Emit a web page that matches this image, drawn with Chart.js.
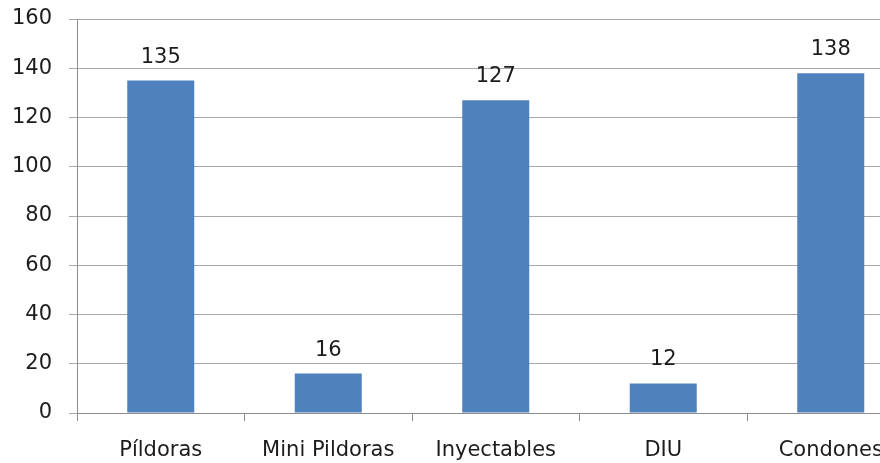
<!DOCTYPE html>
<html>
<head>
<meta charset="utf-8">
<script src="https://cdn.jsdelivr.net/npm/chart.js@4"></script>
<style>
  html, body { margin: 0; padding: 0; background: #fff; overflow: hidden; }
  #wrap { width: 930px; height: 463px; }
</style>
</head>
<body>
<div id="wrap"><canvas id="c" width="930" height="463"></canvas></div>
<script>
// Métodos anticonceptivos: número de usuarias por método
const categories = ['Píldoras', 'Mini Pildoras', 'Inyectables', 'DIU', 'Condones'];
const usuarias = [135, 16, 127, 12, 138];
const yTicks = [0, 20, 40, 60, 80, 100, 120, 140, 160];

const FONT = 'DejaVu Sans';
const TEXT = '#1c1c1c';
const SIZE = 21;

// Writes each bar's value just above it
const valueLabels = {
  id: 'valueLabels',
  afterDatasetsDraw(chart) {
    const ctx = chart.ctx;
    const meta = chart.getDatasetMeta(0);
    ctx.save();
    ctx.font = SIZE + 'px "' + FONT + '"';
    ctx.fillStyle = TEXT;
    ctx.textAlign = 'center';
    ctx.textBaseline = 'bottom';
    meta.data.forEach((bar, i) => {
      ctx.fillText(String(usuarias[i]), bar.x, bar.y - 13);
    });
    ctx.restore();
  }
};

new Chart(document.getElementById('c'), {
  type: 'bar',
  data: {
    labels: categories,
    datasets: [{
      data: usuarias,
      backgroundColor: '#4F81BD',
      borderWidth: 0,
      barPercentage: 0.4,
      categoryPercentage: 1.0
    }]
  },
  options: {
    responsive: false,
    animation: false,
    layout: { padding: { left: 13, right: 15.5, top: 19, bottom: 0 } },
    plugins: { legend: { display: false }, tooltip: { enabled: false } },
    scales: {
      x: {
        offset: true,
        afterFit(axis) {
          axis.height = 50;
          axis.paddingLeft = 0;
          axis.paddingRight = 0;
        },
        grid: {
          offset: true,
          drawOnChartArea: false,
          drawTicks: true,
          tickLength: 8,
          color: '#8c8c8c'
        },
        border: { color: '#8c8c8c', width: 1 },
        ticks: {
          font: { family: FONT, size: SIZE },
          color: TEXT,
          padding: 17,
          maxRotation: 0,
          autoSkip: false
        }
      },
      y: {
        min: 0,
        max: 160,
        afterBuildTicks(axis) { axis.ticks = yTicks.map(v => ({ value: v })); },
        afterFit(axis) {
          axis.width = 64;
          axis.paddingTop = 0;
          axis.paddingBottom = 0;
        },
        grid: {
          color: '#a8a8a8',
          tickLength: 8,
          drawTicks: true
        },
        border: { color: '#8c8c8c', width: 1 },
        ticks: {
          font: { family: FONT, size: SIZE },
          color: TEXT,
          padding: 17
        }
      }
    }
  },
  plugins: [valueLabels]
});
</script>
</body>
</html>
